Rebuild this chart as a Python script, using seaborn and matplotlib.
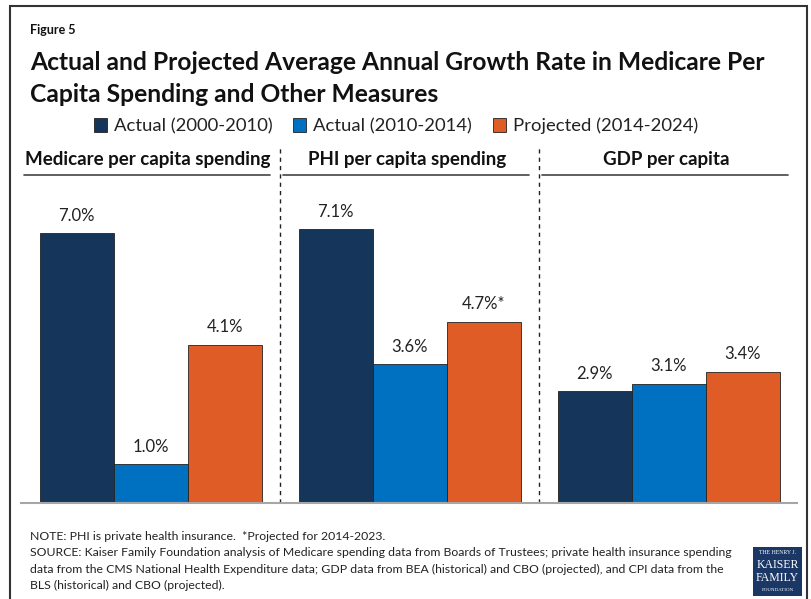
import pandas as pd
import numpy as np
import matplotlib
matplotlib.use('Agg')
import matplotlib.pyplot as plt
import seaborn as sns
from matplotlib.patches import Rectangle

# Chart data
measures = ['Medicare per capita spending', 'PHI per capita spending', 'GDP per capita']
periods = ['Actual (2000-2010)', 'Actual (2010-2014)', 'Projected (2014-2024)']
actual_2000_2010 = [7.0, 7.1, 2.9]
actual_2010_2014 = [1.0, 3.6, 3.1]
projected_2014_2024 = [4.1, 4.7, 3.4]
value_labels = [['7.0%', '7.1%', '2.9%'],
                ['1.0%', '3.6%', '3.1%'],
                ['4.1%', '4.7%*', '3.4%']]
colors = ['#15355a', '#0070c0', '#e05c27']

df = pd.DataFrame({
    'measure': measures * 3,
    'period': [p for p in periods for _ in measures],
    'value': actual_2000_2010 + actual_2010_2014 + projected_2014_2024,
})

sns.set_style('white')
plt.rcParams['font.family'] = ['Lato', 'DejaVu Sans']

W, H = 812, 599
fig = plt.figure(figsize=(W / 100, H / 100), dpi=100)

def fx(px):
    return px / W

def fy(py):
    return 1 - py / H

# plot area: baseline at y=503px, top at 135px
ax = fig.add_axes([fx(21), fy(503), fx(797) - fx(21), fy(135) - fy(503)])
sns.barplot(data=df, x='measure', y='value', hue='period', order=measures,
            hue_order=periods, palette=colors, saturation=1, width=0.857,
            ax=ax, edgecolor='#222222', linewidth=0.6, legend=False)
ax.set_xlim(-0.5, 2.495)
ax.set_ylim(0, 9.55)
ax.set_xlabel('')
ax.set_ylabel('')
ax.set_xticks([])
ax.set_yticks([])
for s in ['top', 'right', 'left']:
    ax.spines[s].set_visible(False)
ax.spines['bottom'].set_color('#a6a6a6')
ax.spines['bottom'].set_linewidth(1.5)

# value labels
for cont, labs in zip(ax.containers, value_labels):
    ax.bar_label(cont, labels=labs, padding=7, fontsize=12, color='#222222')

# panel headers with underlines, dashed separators
for i, m in enumerate(measures):
    ax.text(i - 0.01, 8.7, m, ha='center', va='bottom', fontsize=13.5,
            fontweight='bold', color='#111111')
    ax.plot([i - 0.49, i + 0.46], [8.5, 8.5], color='#444444', lw=1.2,
            clip_on=False)
for xs in [0.5, 1.5]:
    ax.plot([xs, xs], [0, 9.3], color='#222222', lw=1, ls=(0, (3, 3)),
            clip_on=False)

# titles
fig.text(fx(30), fy(30), 'Figure 5', fontsize=9, fontweight='bold',
         va='center', ha='left', color='#111111')
fig.text(fx(30), fy(62), 'Actual and Projected Average Annual Growth Rate in Medicare Per',
         fontsize=17.7, fontweight='bold', va='center', ha='left', color='#111111')
fig.text(fx(30), fy(95), 'Capita Spending and Other Measures',
         fontsize=17.7, fontweight='bold', va='center', ha='left', color='#111111')

# legend
handles = [Rectangle((0, 0), 1, 1, facecolor=c, edgecolor='#222222', lw=0.6)
           for c in colors]
fig.legend(handles, periods, loc='center', bbox_to_anchor=(fx(396), fy(126)),
           ncol=3, frameon=False, fontsize=13.3, handlelength=0.7,
           handleheight=0.8, handletextpad=0.4, columnspacing=1.1,
           labelcolor='#222222')

# notes
notes = ['NOTE: PHI is private health insurance.  *Projected for 2014-2023.',
         'SOURCE: Kaiser Family Foundation analysis of Medicare spending data from Boards of Trustees; private health insurance spending',
         'data from the CMS National Health Expenditure data; GDP data from BEA (historical) and CBO (projected), and CPI data from the',
         'BLS (historical) and CBO (projected).']
for k, line in enumerate(notes):
    fig.text(fx(30), fy(537 + 16 * k), line, fontsize=8.8, va='center',
             ha='left', color='#222222')

# logo
fig.patches.append(Rectangle((fx(753), fy(596)), fx(49), fy(547) - fy(596),
                             transform=fig.transFigure, facecolor='#1b3766',
                             edgecolor='none'))
logo = [('THE HENRY J.', 4.2, 553), ('KAISER', 8.5, 565), ('FAMILY', 8.5, 578),
        ('FOUNDATION', 3.6, 590)]
for t, s, y in logo:
    fig.text(fx(777.5), fy(y), t, fontsize=s, color='white', ha='center',
             va='center', family='Liberation Serif')

# outer frame
fig.patches.append(Rectangle((fx(10), -0.01), fx(807) - fx(10), fy(6) + 0.01,
                             transform=fig.transFigure, facecolor='none',
                             edgecolor='#333333', lw=1.5))

fig.savefig('out.png', dpi=100)
